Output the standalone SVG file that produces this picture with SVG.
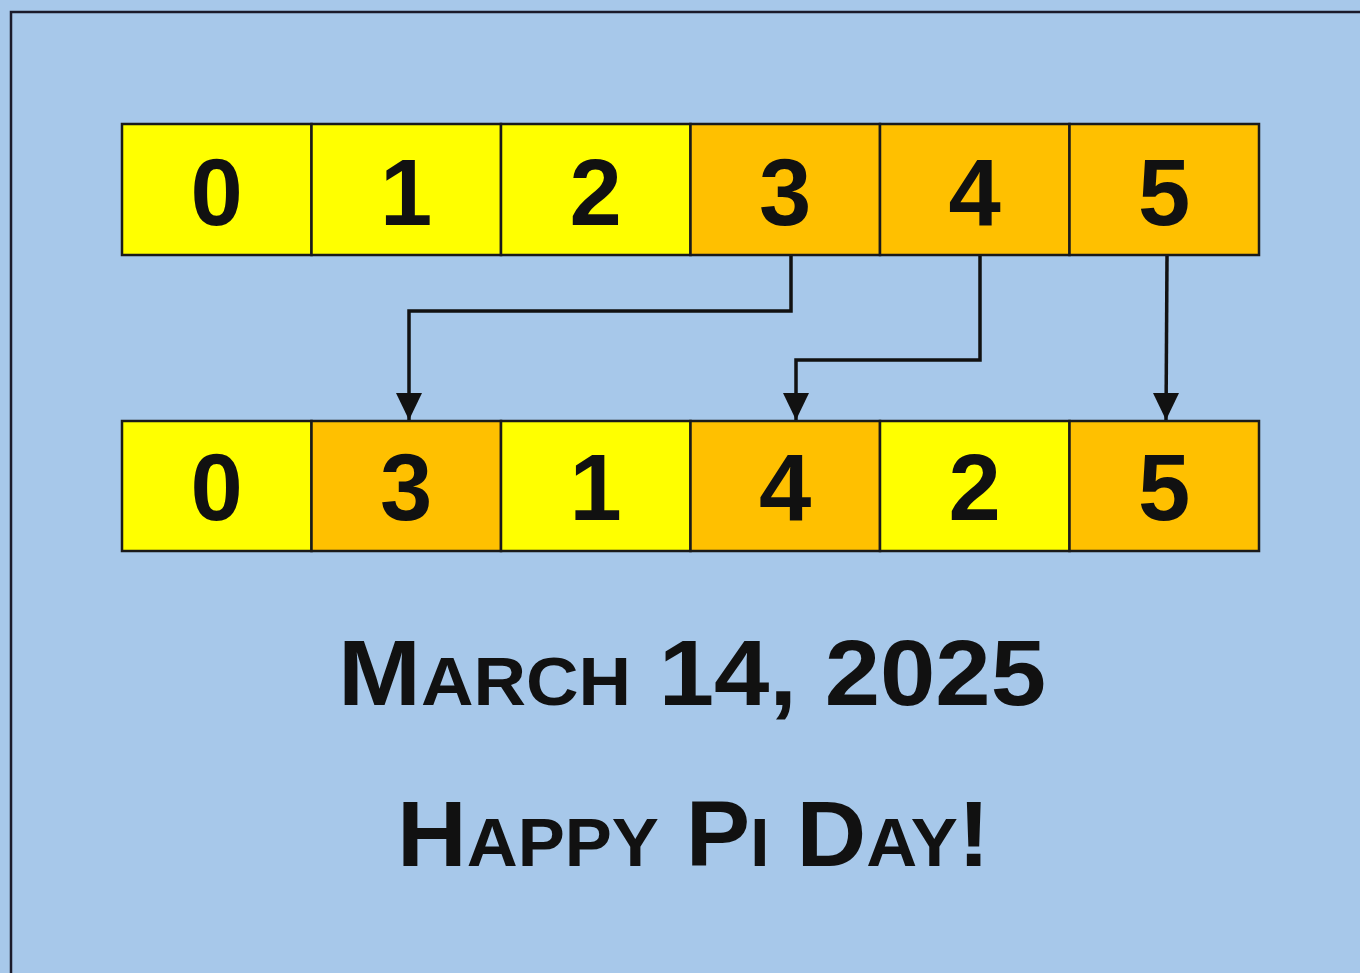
<svg xmlns="http://www.w3.org/2000/svg" width="1360" height="973" viewBox="0 0 1360 973">
<defs>
<style>
.y{fill:#FFFF00;stroke:#1a1a1a;stroke-width:2.5}
.o{fill:#FFC000;stroke:#1a1a1a;stroke-width:2.5}
.d{font-family:"Liberation Sans",Arial,sans-serif;font-weight:bold;font-size:94px;fill:#111;text-anchor:middle}
.t{font-family:"Liberation Sans",Arial,sans-serif;font-weight:bold;fill:#111}
.c{fill:none;stroke:#111;stroke-width:3.5}
</style>
<marker id="ah" markerWidth="26" markerHeight="28" refX="13" refY="27" orient="0" markerUnits="userSpaceOnUse">
<path d="M0,0 L26,0 L13,27 Z" fill="#111"/>
</marker>
</defs>
<rect x="0" y="0" width="1360" height="973" fill="#A7C8EA"/>
<path d="M11,973 V12 H1360" fill="none" stroke="#1a1a2a" stroke-width="2.5"/>
<g id="top-row">
<g id="t0"><rect class="y" x="122" y="124" width="189.5" height="131"/><text class="d" x="216.75" y="225">0</text></g>
<g id="t1"><rect class="y" x="311.5" y="124" width="189.5" height="131"/><text class="d" x="406.25" y="225">1</text></g>
<g id="t2"><rect class="y" x="501" y="124" width="189.5" height="131"/><text class="d" x="595.75" y="225">2</text></g>
<g id="t3"><rect class="o" x="690.5" y="124" width="189.5" height="131"/><text class="d" x="785.25" y="225">3</text></g>
<g id="t4"><rect class="o" x="880" y="124" width="189.5" height="131"/><text class="d" x="974.75" y="225">4</text></g>
<g id="t5"><rect class="o" x="1069.5" y="124" width="189.5" height="131"/><text class="d" x="1164.25" y="225">5</text></g>
</g>
<g id="bottom-row">
<g id="b0"><rect class="y" x="122" y="421" width="189.5" height="130"/><text class="d" x="216.75" y="520">0</text></g>
<g id="b1"><rect class="o" x="311.5" y="421" width="189.5" height="130"/><text class="d" x="406.25" y="520">3</text></g>
<g id="b2"><rect class="y" x="501" y="421" width="189.5" height="130"/><text class="d" x="595.75" y="520">1</text></g>
<g id="b3"><rect class="o" x="690.5" y="421" width="189.5" height="130"/><text class="d" x="785.25" y="520">4</text></g>
<g id="b4"><rect class="y" x="880" y="421" width="189.5" height="130"/><text class="d" x="974.75" y="520">2</text></g>
<g id="b5"><rect class="o" x="1069.5" y="421" width="189.5" height="130"/><text class="d" x="1164.25" y="520">5</text></g>
</g>
<g id="connectors">
<path class="c" d="M791,256 V311 H409 V420" marker-end="url(#ah)"/>
<path class="c" d="M980,256 V360 H796 V420" marker-end="url(#ah)"/>
<path class="c" d="M1167,256 L1166,420" marker-end="url(#ah)"/>
</g>
<g id="captions">
<text class="t" x="338" y="705" font-size="93" textLength="708" lengthAdjust="spacingAndGlyphs">M<tspan font-size="68">ARCH</tspan> 14, 2025</text>
<text class="t" x="397" y="866" font-size="93" textLength="593" lengthAdjust="spacingAndGlyphs">H<tspan font-size="68">APPY</tspan> P<tspan font-size="68">I</tspan> D<tspan font-size="68">AY</tspan>!</text>
</g>
</svg>
